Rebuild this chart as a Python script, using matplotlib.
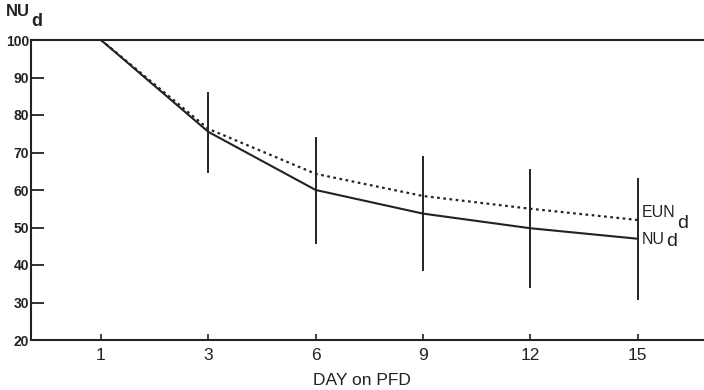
import matplotlib
matplotlib.use("Agg")
import matplotlib.pyplot as plt

days = [1, 3, 6, 9, 12, 15]
nud = [100, 75.5, 60, 53.7, 49.8, 47.0]
eund = [100, 76.3, 64.3, 58.4, 55.0, 52.0]
sd_days = [3, 6, 9, 12, 15]
sd_center = [75.3, 59.9, 53.8, 49.7, 46.9]
sd_half = [10.6, 14.0, 15.0, 15.6, 16.0]
yticks = [20, 30, 40, 50, 60, 70, 80, 90, 100]

plt.rcParams['font.family'] = ['Liberation Sans', 'DejaVu Sans']

fig = plt.figure(figsize=(7.04, 3.90), dpi=100)
ax = fig.add_axes([31/704, 1-340/390, 1-31/704 + 0.002, 300/390])

pos = {d: i + 1 for i, d in enumerate(days)}
xp = [pos[d] for d in days]

ax.plot(xp, nud, color='#222222', lw=1.5, solid_joinstyle='round')
ax.plot(xp, eund, color='#222222', lw=1.6, linestyle=(0, (1.2, 1.6)))
for d, c, h in zip(sd_days, sd_center, sd_half):
    ax.plot([pos[d], pos[d]], [c - h, c + h], color='#222222', lw=1.4)

ax.set_xlim(0.348, 6.63)
ax.set_ylim(20, 100)
ax.set_xticks(xp)
ax.set_xticklabels([str(d) for d in days], fontsize=12.5)
ax.set_yticks(yticks)
ax.set_yticklabels([str(v) for v in yticks], fontsize=10, fontweight='bold')
ax.tick_params(axis='y', direction='in', length=9, width=1.3, pad=1.5, colors='#222222')
ax.tick_params(axis='x', direction='in', length=4, width=1.2, pad=6, colors='#222222')
for s in ['left', 'bottom', 'top']:
    ax.spines[s].set_linewidth(1.5)
    ax.spines[s].set_color('#222222')
ax.spines['right'].set_visible(False)

ax.set_xlabel('DAY on PFD', fontsize=12.5, color='#222222')
ax.xaxis.set_label_coords((361-31)/(704-31), -0.11)

fig.text(6/704, 1-12/390, r'NU', fontsize=12, fontweight='bold', va='center', ha='left', color='#222222')
fig.text(31/704, 1-22/390, r'd', fontsize=13, fontweight='bold', va='center', ha='left', color='#222222')

fig.text(642/704, 1-213/390, 'EUN', fontsize=11.5, va='center', ha='left', color='#222222')
fig.text(677/704, 1-224/390, 'd', fontsize=14, va='center', ha='left', color='#222222')
fig.text(642/704, 1-240/390, 'NU', fontsize=11.5, va='center', ha='left', color='#222222')
fig.text(666/704, 1-241/390, 'd', fontsize=14, va='center', ha='left', color='#222222')

fig.savefig('out.png', dpi=100)
